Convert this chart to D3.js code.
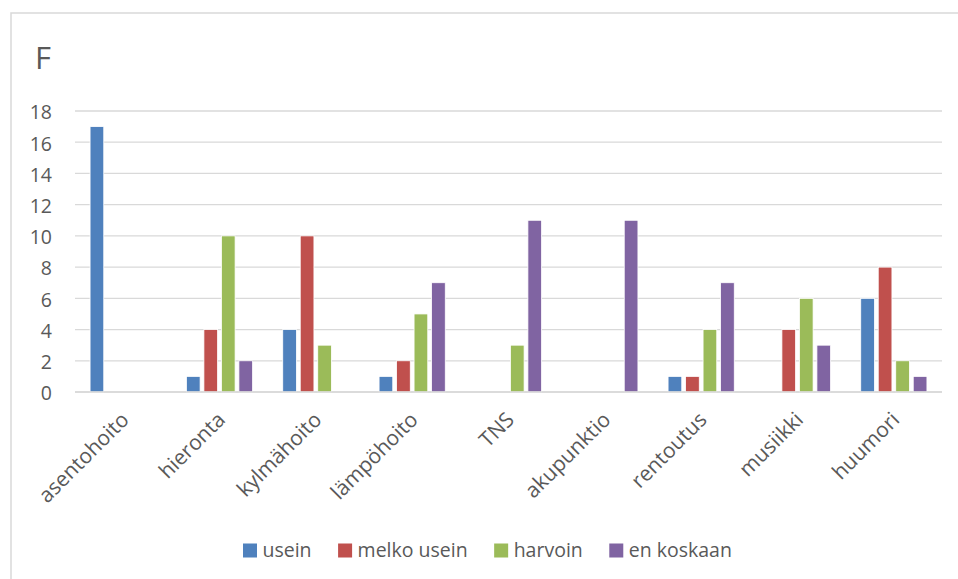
<!DOCTYPE html>
<html>
<head>
<meta charset="utf-8">
<script src="https://cdn.jsdelivr.net/npm/d3@7"></script>
<style>
  html, body { margin: 0; padding: 0; background: #ffffff; }
  svg { display: block; }
  text { font-family: "Open Sans", "Noto Sans", sans-serif; fill: #595959; }
</style>
</head>
<body>
<svg id="chart" width="958" height="579"></svg>
<script>
const title = "F";
const categories = ["asentohoito", "hieronta", "kylmähoito", "lämpöhoito", "TNS", "akupunktio", "rentoutus", "musiikki", "huumori"];
const seriesNames = ["usein", "melko usein", "harvoin", "en koskaan"];
const usein      = [17, 1, 4, 1, 0, 0, 1, 0, 6];
const melkoUsein = [0, 4, 10, 2, 0, 0, 1, 4, 8];
const harvoin    = [0, 10, 3, 5, 3, 0, 4, 6, 2];
const enKoskaan  = [0, 2, 0, 7, 11, 11, 7, 3, 1];
const yTicks = [0, 2, 4, 6, 8, 10, 12, 14, 16, 18];
const colors = ["#4F81BD", "#C0504D", "#9BBB59", "#8064A2"];

const seriesValues = [usein, melkoUsein, harvoin, enKoskaan];
const FS = 19.5;
const XFS = 21;

const svg = d3.select("#chart");

// chart border
svg.append("rect")
  .attr("x", 11).attr("y", 13)
  .attr("width", 1000).attr("height", 620)
  .attr("fill", "none")
  .attr("stroke", "#D9D9D9")
  .attr("stroke-width", 1.5);

// title
svg.append("text")
  .attr("x", 35).attr("y", 69)
  .attr("font-size", 31)
  .text(title);

const plotLeft = 75, plotRight = 942, plotTop = 111, plotBottom = 392;

const x0 = d3.scaleBand().domain(categories).range([plotLeft, plotRight]).paddingInner(0).paddingOuter(0);
const bw = x0.bandwidth();
const groupW = 66.2;
const x1 = d3.scaleBand().domain(seriesNames)
  .range([(bw - groupW) / 2, (bw + groupW) / 2])
  .paddingInner(0.217).paddingOuter(0);
const y = d3.scaleLinear().domain([0, 18]).range([plotBottom, plotTop]);

// gridlines
svg.append("g")
  .selectAll("line")
  .data(yTicks)
  .join("line")
  .attr("x1", plotLeft).attr("x2", plotRight)
  .attr("y1", d => y(d)).attr("y2", d => y(d))
  .attr("stroke", "#D9D9D9")
  .attr("stroke-width", 1.3);

// y axis labels
const yAxis = d3.axisLeft(y).tickValues(yTicks).tickSize(0).tickPadding(0);
const yg = svg.append("g").attr("transform", `translate(${plotLeft - 23},0)`).call(yAxis);
yg.select(".domain").remove();
yg.selectAll("text")
  .attr("font-size", FS)
  .attr("font-family", "'Open Sans', sans-serif")
  .attr("fill", "#595959")
  .attr("dy", "0.4em");

// bars
const data = categories.map((c, i) => ({ cat: c, vals: seriesNames.map((s, j) => ({ s, j, v: seriesValues[j][i] })) }));
const groups = svg.append("g")
  .selectAll("g")
  .data(data)
  .join("g")
  .attr("transform", d => `translate(${x0(d.cat)},0)`);
groups.selectAll("rect")
  .data(d => d.vals.filter(e => e.v > 0))
  .join("rect")
  .attr("x", d => x1(d.s))
  .attr("width", x1.bandwidth())
  .attr("y", d => y(d.v))
  .attr("height", d => y(0) - y(d.v))
  .attr("fill", d => colors[d.j])
  .attr("stroke", "#ffffff")
  .attr("stroke-width", 0.8);

// x axis line
svg.append("line")
  .attr("x1", plotLeft).attr("x2", plotRight)
  .attr("y1", plotBottom).attr("y2", plotBottom)
  .attr("stroke", "#D9D9D9")
  .attr("stroke-width", 1.5);

// x labels
const xAxis = d3.axisBottom(x0).tickSize(0).tickPadding(0);
const xg = svg.append("g").attr("transform", `translate(0,${plotBottom})`).call(xAxis);
xg.select(".domain").remove();
xg.selectAll("text")
  .attr("font-size", XFS)
  .attr("font-family", "'Open Sans', sans-serif")
  .attr("fill", "#595959")
  .attr("text-anchor", "end")
  .attr("dy", null)
  .attr("y", 0)
  .attr("transform", "translate(7,29) rotate(-45)");

// legend
const legend = svg.append("g");
const sq = 14;
const items = legend.selectAll("g").data(seriesNames).join("g");
items.append("rect")
  .attr("width", sq).attr("height", sq)
  .attr("y", 543.5)
  .attr("fill", (d, i) => colors[i]);
items.append("text")
  .attr("x", 19.5)
  .attr("y", 556.5)
  .attr("font-size", FS)
  .text(d => d);
const gap = 26.5;
const widths = [];
items.each(function() { widths.push(19.5 + this.querySelector("text").getComputedTextLength()); });
let start = 243;
items.attr("transform", (d, i) => {
  const t = `translate(${start},0)`;
  start += widths[i] + gap;
  return t;
});
</script>
</body>
</html>
